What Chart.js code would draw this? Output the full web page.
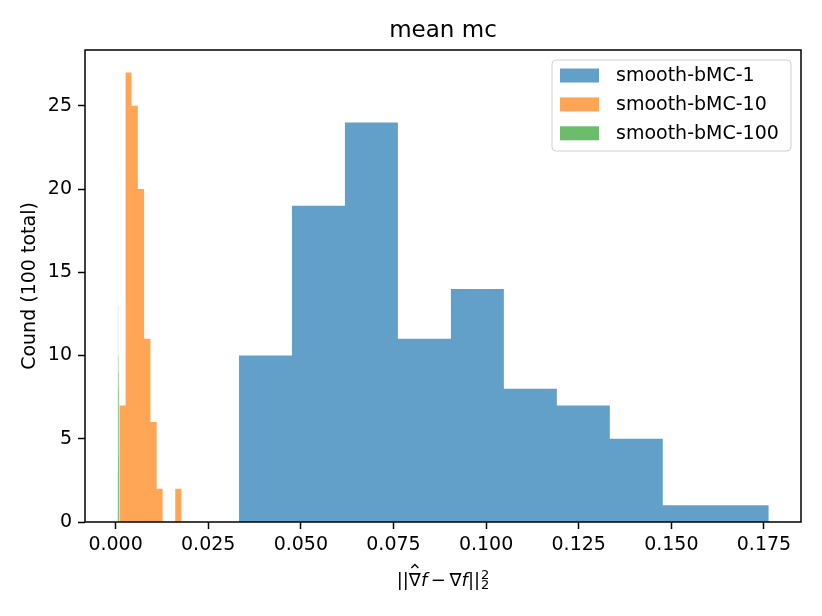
<!DOCTYPE html>
<html>
<head>
<meta charset="utf-8">
<script src="https://cdn.jsdelivr.net/npm/chart.js@4.4.1/dist/chart.umd.min.js"></script>
<style>
  html, body { margin: 0; padding: 0; background: #fff; }
  #wrap { width: 822px; height: 616px; }
</style>
</head>
<body>
<div id="wrap"><canvas id="hist" width="822" height="616"></canvas></div>
<script>
// values
const seriesNames = ["smooth-bMC-1", "smooth-bMC-10", "smooth-bMC-100"];
const xTicks = [0, 0.025, 0.05, 0.075, 0.1, 0.125, 0.15, 0.175];
const yTicks = [0, 5, 10, 15, 20, 25];

const edges1 = [0.0333, 0.0476, 0.0619, 0.0762, 0.0905, 0.1048, 0.1191, 0.1334, 0.1477, 0.1620, 0.1763];
const counts1 = [10, 19, 24, 11, 14, 8, 7, 5, 1, 1];

const edges10 = [0.0010, 0.0027, 0.0043, 0.0060, 0.0077, 0.0094, 0.0111, 0.0127, 0.0144, 0.0161, 0.0178];
const counts10 = [7, 27, 25, 20, 11, 6, 2, 0, 0, 2];

const edges100 = [0.00054, 0.00058, 0.00061, 0.00065, 0.00068, 0.00072, 0.00076, 0.00079, 0.00083, 0.00086, 0.00090];
const counts100 = [3, 21, 13, 10, 9, 8, 13, 10, 9, 4];

const colors = ["rgba(31, 119, 180, 0.7)", "rgba(255, 127, 14, 0.7)", "rgba(44, 160, 44, 0.7)"];
const FONT = '"DejaVu Sans", "Noto Sans", sans-serif';

// histogram as a filled step line: each bin holds its count until the next edge
function steps(edges, counts) {
  const pts = counts.map((c, i) => ({ x: edges[i], y: c }));
  pts.push({ x: edges[edges.length - 1], y: 0 });
  return pts;
}

function histSet(i, edges, counts) {
  return {
    label: seriesNames[i],
    data: steps(edges, counts),
    stepped: "before",
    fill: "origin",
    backgroundColor: colors[i],
    borderColor: "rgba(0,0,0,0)",
    borderWidth: 0,
    pointRadius: 0,
    order: 3 - i, // blue drawn first, green on top
  };
}

function drawXLabel(ctx, cx, base) {
  const fs = 18;
  const up = fs + "px " + FONT;
  const it = "oblique " + fs + "px " + FONT;
  const sm = "13px " + FONT;
  const parts = [
    [up, "||"], [up, "\u2207", true], [it, "f"], [up, "\u2009\u2212\u2009"],
    [up, "\u2207"], [it, "f"], [up, "||"],
  ];
  let total = 0;
  parts.forEach(p => { ctx.font = p[0]; p.w = ctx.measureText(p[1]).width; total += p.w; });
  ctx.font = sm;
  const sw = ctx.measureText("2").width;
  total += sw + 1;
  let x = cx - total / 2;
  ctx.textAlign = "left";
  ctx.textBaseline = "alphabetic";
  parts.forEach(p => {
    ctx.font = p[0];
    ctx.fillText(p[1], x, base);
    if (p[2]) {
      const mx = x + p.w / 2;
      ctx.beginPath();
      ctx.moveTo(mx - 3.5, base - 18);
      ctx.lineTo(mx, base - 21.5);
      ctx.lineTo(mx + 3.5, base - 18);
      ctx.lineWidth = 1.3;
      ctx.strokeStyle = "#000";
      ctx.stroke();
    }
    x += p.w;
  });
  ctx.font = sm;
  ctx.fillText("2", x + 1, base - 7);
  ctx.fillText("2", x + 1, base + 3);
}

const decor = {
  id: "decor",
  afterDraw(chart) {
    const ctx = chart.ctx;
    const a = chart.chartArea;
    ctx.save();
    // spines
    ctx.strokeStyle = "#000";
    ctx.lineWidth = 1.5;
    ctx.strokeRect(a.left, a.top, a.right - a.left, a.bottom - a.top);

    ctx.fillStyle = "#000";
    // title
    ctx.font = "23px " + FONT;
    ctx.textAlign = "center";
    ctx.textBaseline = "alphabetic";
    ctx.fillText("mean mc", (a.left + a.right) / 2, 37);

    // y title
    ctx.save();
    ctx.translate(30, (a.top + a.bottom) / 2);
    ctx.rotate(-Math.PI / 2);
    ctx.font = "19px " + FONT;
    ctx.textBaseline = "middle";
    ctx.fillText("Cound (100 total)", 0, 0);
    ctx.restore();

    // x title
    drawXLabel(ctx, (a.left + a.right) / 2, 586);

    // legend, upper right inside the axes
    const lx = a.right - 249, ly = a.top + 10, lw = 239, lh = 91;
    ctx.beginPath();
    ctx.roundRect(lx, ly, lw, lh, 4);
    ctx.fillStyle = "rgba(255,255,255,0.8)";
    ctx.fill();
    ctx.strokeStyle = "#d0d0d0";
    ctx.lineWidth = 1;
    ctx.stroke();
    ctx.font = "19px " + FONT;
    ctx.textAlign = "left";
    ctx.textBaseline = "middle";
    seriesNames.forEach((name, i) => {
      const cy = ly + 15.5 + i * 28.9;
      ctx.fillStyle = colors[i];
      ctx.fillRect(lx + 8, cy - 7, 39, 14);
      ctx.fillStyle = "#000";
      ctx.fillText(name, lx + 64, cy + 1);
    });
    ctx.restore();
  },
};

const tickGrid = {
  drawOnChartArea: false,
  drawTicks: true,
  tickLength: 7,
  tickWidth: 1.5,
  tickColor: "#000",
};

new Chart(document.getElementById("hist").getContext("2d"), {
  type: "line",
  data: {
    datasets: [
      histSet(0, edges1, counts1),
      histSet(1, edges10, counts10),
      histSet(2, edges100, counts100),
    ],
  },
  options: {
    responsive: false,
    animation: false,
    layout: { padding: { left: 0, top: 50, right: 21, bottom: 0 } },
    plugins: {
      legend: { display: false },
      title: { display: false },
      tooltip: { enabled: false },
    },
    scales: {
      x: {
        type: "linear",
        min: -0.00826,
        max: 0.185,
        afterFit: (s) => { s.height = 94; },
        afterBuildTicks: (s) => { s.ticks = xTicks.map(v => ({ value: v })); },
        grid: tickGrid,
        border: { display: false },
        ticks: {
          padding: 5,
          color: "#000",
          font: { family: FONT, size: 19 },
          maxRotation: 0,
          autoSkip: false,
          callback: (v) => Number(v).toFixed(3),
        },
      },
      y: {
        type: "linear",
        min: 0,
        max: 28.35,
        afterFit: (s) => { s.width = 85; },
        afterBuildTicks: (s) => { s.ticks = yTicks.map(v => ({ value: v })); },
        grid: tickGrid,
        border: { display: false },
        ticks: {
          padding: 6,
          color: "#000",
          font: { family: FONT, size: 19 },
          autoSkip: false,
          callback: (v) => String(v),
        },
      },
    },
  },
  plugins: [decor],
});
</script>
</body>
</html>
